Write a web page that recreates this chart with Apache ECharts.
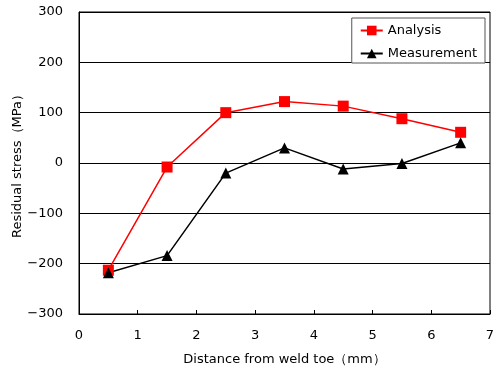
<!DOCTYPE html>
<html><head><meta charset="utf-8">
<script src="https://cdn.jsdelivr.net/npm/echarts@6/dist/echarts.min.js"></script>
<style>html,body{margin:0;padding:0;background:#fff}#c{width:493px;height:374px}</style>
</head><body><div id="c"></div>
<script>
const xValues = [0.5, 1.5, 2.5, 3.5, 4.5, 5.5, 6.5];
const analysis = [-213, -8, 100, 122, 113, 88, 61];
const measurement = [-218, -184, -20, 30, -12, -1, 40];
const seriesNames = ['Analysis', 'Measurement'];
const xTitle = 'Distance from weld toe（mm）';
const yTitle = 'Residual stress（MPa）';

const font = 'DejaVu Sans, sans-serif';
const chart = echarts.init(document.getElementById('c'));
chart.setOption({
  animation: false,
  backgroundColor: '#fff',
  grid: {left: 79, right: 3, top: 12, bottom: 60, show: true, borderColor: '#000', borderWidth: 1,
         containLabel: false, outerBoundsMode: 'none'},
  legend: {
    right: 8, top: 18, orient: 'vertical', itemGap: 10, itemWidth: 22, itemHeight: 12,
    borderColor: '#555', borderWidth: 1, backgroundColor: '#fff', padding: [6, 8, 3, 8],
    textStyle: {fontFamily: font, fontSize: 13, color: '#000'},
    data: seriesNames
  },
  xAxis: {
    type: 'value', min: 0, max: 7, interval: 1,
    name: xTitle, nameLocation: 'middle', nameGap: 39, nameMoveOverlap: false,
    nameTextStyle: {fontFamily: font, fontSize: 13, color: '#000'},
    axisLine: {onZero: false, lineStyle: {color: '#000'}},
    axisTick: {inside: true, length: 4, lineStyle: {color: '#000'}},
    axisLabel: {fontFamily: font, fontSize: 13, color: '#000', margin: 15},
    splitLine: {show: false}
  },
  yAxis: {
    type: 'value', min: -300, max: 300, interval: 100,
    name: yTitle, nameLocation: 'middle', nameGap: 55, nameMoveOverlap: false,
    nameTextStyle: {fontFamily: font, fontSize: 13, color: '#000'},
    axisLine: {show: true, onZero: false, lineStyle: {color: '#000'}},
    axisTick: {show: false},
    axisLabel: {fontFamily: font, fontSize: 13, color: '#000', margin: 16,
      formatter: v => v < 0 ? '−' + Math.abs(v) : String(v)},
    splitLine: {lineStyle: {color: '#000', width: 1}}
  },
  series: [
    {name: seriesNames[0], type: 'line', data: xValues.map((x, i) => [x, analysis[i]]),
     symbol: 'rect', symbolSize: 11, lineStyle: {color: '#ff0000', width: 1.5},
     itemStyle: {color: '#ff0000'}},
    {name: seriesNames[1], type: 'line', data: xValues.map((x, i) => [x, measurement[i]]),
     symbol: 'triangle', symbolSize: 11, lineStyle: {color: '#000', width: 1.5},
     itemStyle: {color: '#000'}}
  ]
});
</script></body></html>
